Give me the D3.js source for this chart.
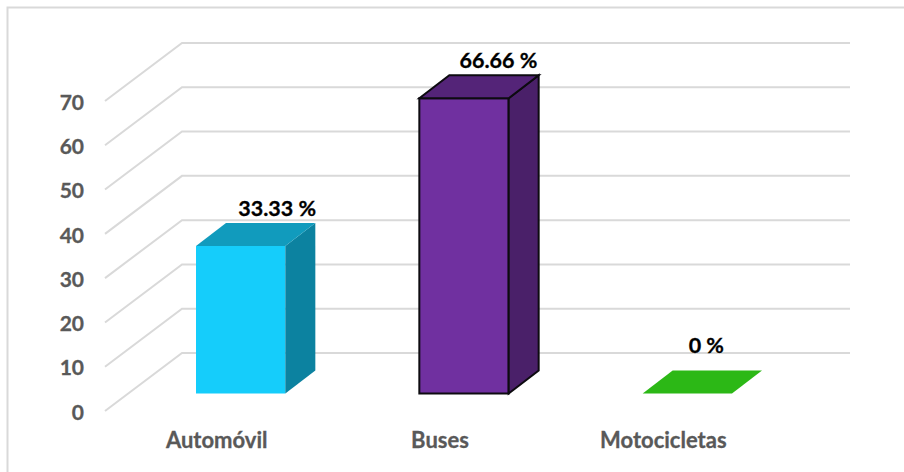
<!DOCTYPE html>
<html>
<head>
<meta charset="utf-8">
<script src="https://cdn.jsdelivr.net/npm/d3@7"></script>
<style>
    html, body { margin: 0; padding: 0; background: #fff; }
    svg { display: block; }
    text { font-family: Lato, "Open Sans", sans-serif; font-weight: 700; }
    .tick text { fill: #595959; stroke: #595959; stroke-width: 0.3px; }
    .valueLabel { stroke: #000; stroke-width: 0.3px; }
</style>
</head>
<body>
<div id="chart"></div>
<script>
// Data
var categories = ["Automóvil", "Buses", "Motocicletas"];
var values = [33.33, 66.66, 0];
var valueLabels = ["33.33 %", "66.66 %", "0 %"];
var yTicks = [0, 10, 20, 30, 40, 50, 60, 70];

var frontColors = ["#15cdfb", "#7030a0", "#2cb816"];
var topColors = ["#119bbd", "#542478", "#2cb816"];
var sideColors = ["#0c82a0", "#4a2069", "#2cb816"];
var outlineColors = ["none", "#0d0b10", "none"];

var svgWidth = 904;
var svgHeight = 472;

var svg = d3.select("#chart")
    .append("svg")
    .attr("width", svgWidth)
    .attr("height", svgHeight);

// Chart border, only top and left are inside the crop
svg.append("path")
    .attr("d", d3.line()([[7.5, svgHeight], [7.5, 7.5], [svgWidth, 7.5]]))
    .attr("fill", "none")
    .attr("stroke", "#d9d9d9")
    .attr("stroke-width", 2);

// Back wall scale, the floor pushes things down and left from it
var depthX = 77;
var depthY = 58;
var barDepthX = 30;
var barDepthY = 23;
var barInsetX = 24;
var barInsetY = 17.5;

var yBack = d3.scaleLinear()
    .domain([0, 70])
    .range([353, 43]);

var xFront = d3.scaleBand()
    .domain(categories)
    .range([105, 775])
    .paddingInner(0.6)
    .paddingOuter(0.3);

var wallRight = 850;

// Gridlines: diagonal on the side wall then flat on the back wall
var gridLine = d3.line();

svg.append("g").selectAll("path")
    .data(yTicks)
    .enter()
    .append("path")
    .attr("d", d => gridLine([
        [105, yBack(d) + depthY],
        [105 + depthX, yBack(d)],
        [wallRight, yBack(d)]
    ]))
    .attr("fill", "none")
    .attr("stroke", "#d9d9d9")
    .attr("stroke-width", 2);

// Axes
var yFront = d3.scaleLinear()
    .domain(yBack.domain())
    .range(yBack.range().map(d => d + depthY));

var leftAxis = d3.axisLeft(yFront).tickValues(yTicks).tickSize(0).tickPadding(0);
var axisLeftG = svg.append("g")
    .attr("transform", "translate(84, 1.5)")
    .call(leftAxis);
axisLeftG.select(".domain").remove();
axisLeftG.selectAll("text").style("font-size", "21px");

var bottomAxis = d3.axisBottom(xFront).tickSize(0).tickPadding(0);
var axisBottomG = svg.append("g")
    .attr("transform", "translate(0, 432.6)")
    .call(bottomAxis);
axisBottomG.select(".domain").remove();
axisBottomG.selectAll("text").style("font-size", "22px");

// Bars: 3 faces each
var bars = svg.append("g").selectAll("g")
    .data(categories)
    .enter()
    .append("g");

var baseY = yFront(0) - barInsetY;
var barHeight = d => yBack(0) - yBack(d);

function facePath(pts) {
    return d3.line()(pts) + "Z";
}

bars.each(function(c, i) {
    var g = d3.select(this);
    var x0 = xFront(c) + barInsetX;
    var x1 = x0 + xFront.bandwidth();
    var yTop = baseY - barHeight(values[i]);

    if (values[i] > 0) {
        g.append("path")
            .attr("d", facePath([[x0, yTop], [x1, yTop], [x1, baseY], [x0, baseY]]))
            .attr("fill", frontColors[i])
            .attr("stroke", outlineColors[i])
            .attr("stroke-width", 2);
        g.append("path")
            .attr("d", facePath([[x1, yTop], [x1 + barDepthX, yTop - barDepthY], [x1 + barDepthX, baseY - barDepthY], [x1, baseY]]))
            .attr("fill", sideColors[i])
            .attr("stroke", outlineColors[i])
            .attr("stroke-width", 2);
    }
    g.append("path")
        .attr("d", facePath([[x0, yTop], [x0 + barDepthX, yTop - barDepthY], [x1 + barDepthX, yTop - barDepthY], [x1, yTop]]))
        .attr("fill", topColors[i])
        .attr("stroke", outlineColors[i])
        .attr("stroke-width", 2);
});

// Value labels were placed by hand in the original, so each has its own nudge
var labelNudge = [[36.5, -30], [34.5, -30], [19, -41]];

svg.append("g").selectAll("text")
    .data(categories)
    .enter()
    .append("text")
    .attr("class", "valueLabel")
    .attr("x", (d, i) => xFront(d) + barInsetX + xFront.bandwidth() / 2 + labelNudge[i][0])
    .attr("y", (d, i) => baseY - barHeight(values[i]) + labelNudge[i][1])
    .attr("text-anchor", "middle")
    .attr("font-size", 21.5)
    .attr("fill", "#000")
    .text((d, i) => valueLabels[i]);
</script>
</body>
</html>
